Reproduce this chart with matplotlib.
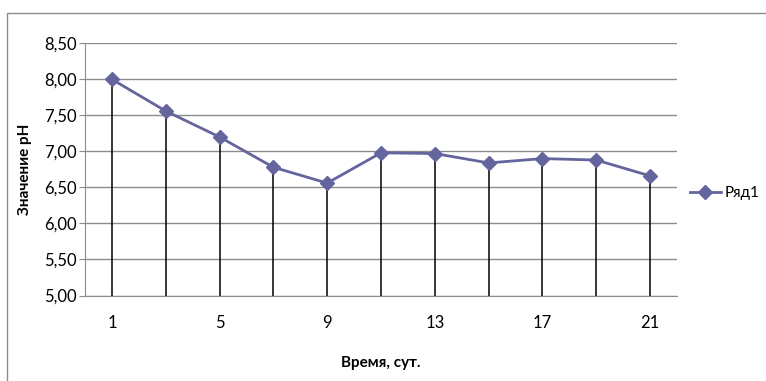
import matplotlib.pyplot as plt
from matplotlib.patches import Rectangle
from matplotlib.ticker import FuncFormatter

# pH over time
days = [1, 3, 5, 7, 9, 11, 13, 15, 17, 19, 21]
ph_values = [8.00, 7.56, 7.20, 6.78, 6.56, 6.98, 6.97, 6.84, 6.90, 6.88, 6.66]
series_name = "Ряд1"
y_ticks = [5.0, 5.5, 6.0, 6.5, 7.0, 7.5, 8.0, 8.5]

plt.rcParams['font.family'] = ['Lato', 'DejaVu Sans']

LINE_COLOR = '#65659E'
GRID_COLOR = '#8C8C8C'

fig = plt.figure(figsize=(7.66, 3.81), dpi=100)
ax = fig.add_axes([85 / 766, 1 - 295.5 / 381, 592 / 766, 252.2 / 381])

x = list(range(len(days)))
ax.vlines(x, y_ticks[0], ph_values, colors='black', lw=1.1, zorder=2)
ax.plot(x, ph_values, color=LINE_COLOR, lw=2, marker='D', markersize=7.5,
        label=series_name, zorder=3)

ax.set_xlim(-0.5, len(days) - 0.5)
ax.set_ylim(y_ticks[0], y_ticks[-1])
ax.set_yticks(y_ticks)
ax.yaxis.set_major_formatter(FuncFormatter(lambda v, _: f"{v:.2f}".replace('.', ',')))
ax.set_xticks(x[::2])
ax.set_xticklabels([str(d) for d in days[::2]])

ax.grid(axis='y', color=GRID_COLOR, lw=1)
ax.set_axisbelow(True)
for side in ('top', 'right'):
    ax.spines[side].set_visible(False)
for side in ('left', 'bottom'):
    ax.spines[side].set_color(GRID_COLOR)
ax.tick_params(axis='y', length=4, color=GRID_COLOR, labelsize=12, pad=2)
ax.tick_params(axis='x', length=0, labelsize=12, pad=14)

ax.set_ylabel("Значение рН", fontsize=11, fontweight='bold', labelpad=9)
ax.set_xlabel("Время, сут.", fontsize=11, fontweight='bold', labelpad=18)

fig.legend(loc='center left', bbox_to_anchor=(690 / 766, 1 - 193 / 381),
           frameon=False, fontsize=11, handlelength=2.0, handletextpad=0.25,
           borderaxespad=0, borderpad=0)

# chart area border
fig.add_artist(Rectangle((6.5 / 766, -0.1), 1.0, 1.1 - 12.5 / 381,
                         transform=fig.transFigure, fill=False,
                         edgecolor=GRID_COLOR, lw=1))

fig.savefig('out.png', dpi=100)
